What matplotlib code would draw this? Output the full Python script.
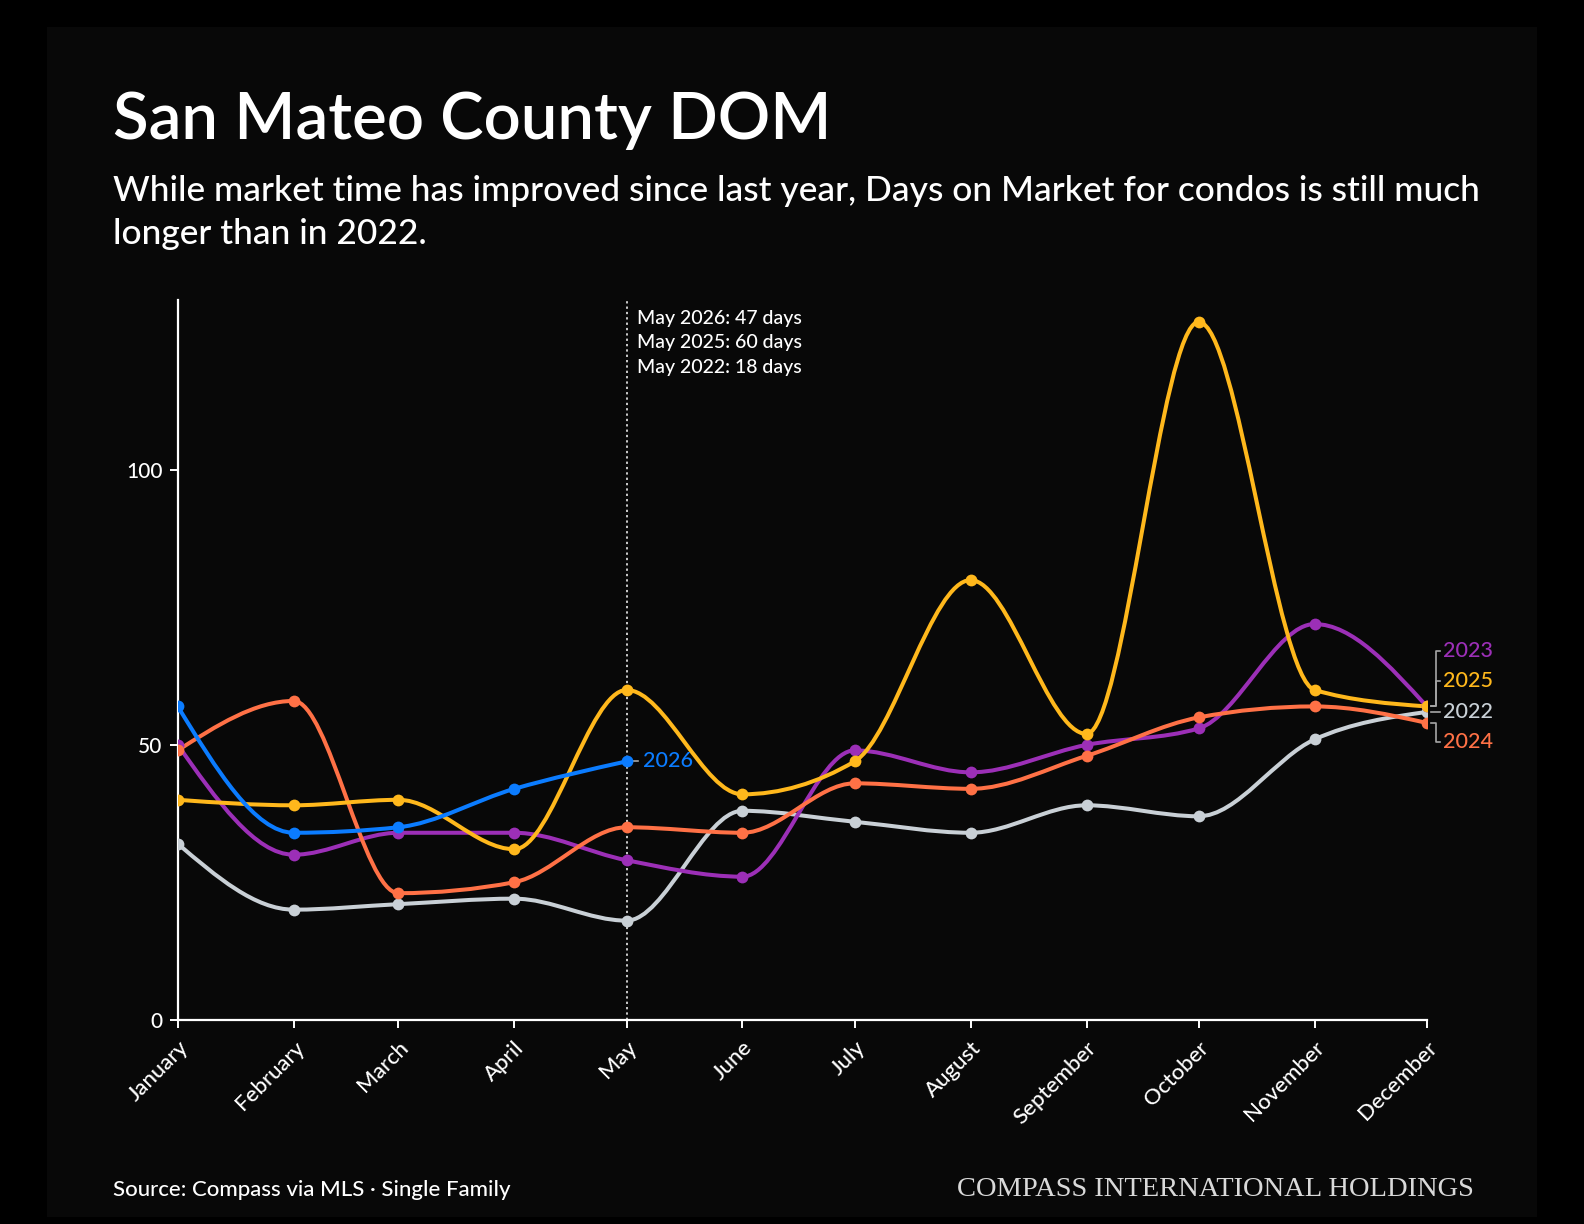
import matplotlib

matplotlib.use("Agg")
import matplotlib.dates as mdates
import matplotlib.pyplot as plt
import numpy as np
import pandas as pd
from matplotlib.patches import PathPatch, Rectangle
from matplotlib.path import Path
from matplotlib.transforms import offset_copy

MONTHS = [
    "January", "February", "March", "April", "May", "June",
    "July", "August", "September", "October", "November", "December",
]
DOM_2022 = [32, 20, 21, 22, 18, 38, 36, 34, 39, 37, 51, 56]
DOM_2023 = [50, 30, 34, 34, 29, 26, 49, 45, 50, 53, 72, 57]
DOM_2024 = [49, 58, 23, 25, 35, 34, 43, 42, 48, 55, 57, 54]
DOM_2025 = [40, 39, 40, 31, 60, 41, 47, 80, 52, 127, 60, 57]
DOM_2026 = [57, 34, 35, 42, 47]

SERIES = {
    "2022": (DOM_2022, "#c9d0d6"),
    "2023": (DOM_2023, "#9c2fb7"),
    "2024": (DOM_2024, "#ff7146"),
    "2025": (DOM_2025, "#ffb81c"),
    "2026": (DOM_2026, "#0b7cff"),
}
Y_TICKS = [0, 50, 100]
Y_MAX = 131
HOVER_MONTH = 4  # May
HOVER_YEARS = ["2026", "2025", "2022"]

TITLE = "San Mateo County DOM"
SUBTITLE = [
    "While market time has improved since last year, Days on Market for condos is still much",
    "longer than in 2022.",
]
SOURCE = "Source: Compass via MLS \u00b7 Single Family"
BRAND = "COMPASS INTERNATIONAL HOLDINGS"

FONT = "Lato"
BG = "#080808"


def monotone_path(x, y):
    # same tangents as d3.curveMonotoneX, emitted as cubic beziers
    x = np.asarray(x, dtype=float)
    y = np.asarray(y, dtype=float)
    h = np.diff(x)
    s = np.diff(y) / h
    sign = lambda v: -1.0 if v < 0 else 1.0
    t = np.zeros(len(x))
    for i in range(1, len(x) - 1):
        p = (s[i - 1] * h[i] + s[i] * h[i - 1]) / (h[i - 1] + h[i])
        t[i] = (sign(s[i - 1]) + sign(s[i])) * min(abs(s[i - 1]), abs(s[i]), 0.5 * abs(p))
    t[0] = (3 * s[0] - t[1]) / 2
    t[-1] = (3 * s[-1] - t[-2]) / 2

    verts = [(x[0], y[0])]
    codes = [Path.MOVETO]
    for i in range(len(x) - 1):
        dx = h[i] / 3
        verts += [
            (x[i] + dx, y[i] + dx * t[i]),
            (x[i + 1] - dx, y[i + 1] - dx * t[i + 1]),
            (x[i + 1], y[i + 1]),
        ]
        codes += [Path.CURVE4] * 3
    return Path(verts, codes)


dates = pd.date_range("2022-01-01", periods=12, freq="MS")
xnum = mdates.date2num(dates.to_pydatetime())

fig = plt.figure(figsize=(15.84, 12.24), dpi=100, facecolor="black")
fig.add_artist(
    Rectangle((47 / 1584, 1 - 1217 / 1224), 1490 / 1584, 1190 / 1224,
              transform=fig.transFigure, facecolor=BG, edgecolor="none", zorder=-10)
)

ax = fig.add_axes([177.8 / 1584, 1 - 1019.5 / 1224, 1249 / 1584, 719.5 / 1224])
ax.set_facecolor(BG)
ax.set_xlim(xnum[0], xnum[-1])
ax.set_ylim(0, Y_MAX)

for side in ("top", "right"):
    ax.spines[side].set_visible(False)
for side in ("left", "bottom"):
    ax.spines[side].set_color("white")
    ax.spines[side].set_linewidth(1.6)

ax.set_yticks(Y_TICKS)
ax.set_yticklabels([str(v) for v in Y_TICKS], fontsize=15, family=FONT,
                   fontweight="medium", color="white")
ax.set_xticks(xnum)
ax.set_xticklabels(MONTHS, fontsize=16, family=FONT, fontweight="medium", color="white",
                   rotation=45, ha="right", va="top", rotation_mode="anchor")
ax.tick_params(axis="both", colors="white", length=6, width=1.4, pad=5)
ax.tick_params(axis="x", pad=7)

# hover line at May
ax.axvline(xnum[HOVER_MONTH], color="white", lw=1.1, ls=(0, (1.5, 2)), zorder=2)

for year, (vals, color) in SERIES.items():
    xs = xnum[: len(vals)]
    ax.add_patch(PathPatch(monotone_path(xs, vals), facecolor="none",
                           edgecolor=color, lw=2.9, capstyle="round", zorder=3))
    ax.plot(xs, vals, "o", color=color, markersize=8.5, markeredgewidth=0, zorder=4)

fig.canvas.draw()
to_disp = ax.transData.transform
to_data = ax.transData.inverted().transform


def connector(points_px, color):
    pts = to_data(np.asarray(points_px, dtype=float))
    ax.plot(pts[:, 0], pts[:, 1], color=color, lw=1.2, zorder=2, clip_on=False)


# end labels on the right, stacked to avoid overlap
full_years = [k for k, (v, _) in SERIES.items() if len(v) == len(MONTHS)]
order = sorted(full_years, key=lambda k: -SERIES[k][0][-1])
gap = 5.55
anchor_idx = len(order) // 2
anchor_val = SERIES[order[anchor_idx]][0][-1]
for rank, year in enumerate(order):
    vals, color = SERIES[year]
    label_y = anchor_val + gap * (anchor_idx - rank)
    px, py = to_disp((xnum[-1], vals[-1]))
    _, ly = to_disp((xnum[-1], label_y))
    connector([(px + 4, py), (px + 9, py), (px + 9, ly), (px + 13, ly)], "#a6a6a6")
    ax.text(xnum[-1], label_y, year, color=color, fontsize=15.5, family=FONT,
            fontweight="medium", va="center", ha="left", clip_on=False,
            transform=offset_copy(ax.transData, fig=fig, x=16, y=0, units="dots"))

# 2026 label where the series stops
vals, color = SERIES["2026"]
px, py = to_disp((xnum[len(vals) - 1], vals[-1]))
connector([(px + 5, py), (px + 11, py)], "#a6a6a6")
ax.text(xnum[len(vals) - 1], vals[-1], "2026", color=color, fontsize=15.5, family=FONT,
        fontweight="medium", va="center", ha="left",
        transform=offset_copy(ax.transData, fig=fig, x=16, y=0, units="dots"))

# hover tooltip text
hover_lines = [
    f"{MONTHS[HOVER_MONTH][:3]} {y}: {SERIES[y][0][HOVER_MONTH]} days" for y in HOVER_YEARS
]
ax.text(xnum[HOVER_MONTH], Y_MAX, "\n".join(hover_lines), color="white",
        fontsize=14, family=FONT, fontweight="medium", va="top", ha="left",
        linespacing=1.52,
        transform=offset_copy(ax.transData, fig=fig, x=10, y=-10, units="dots"))

fig.text(113 / 1584, 1 - 139 / 1224, TITLE, color="white", fontsize=47,
         family=FONT, fontweight="semibold", va="baseline", ha="left")
fig.text(113 / 1584, 1 - 201 / 1224, SUBTITLE[0], color="white", fontsize=25.5,
         family=FONT, fontweight="medium", va="baseline", ha="left")
fig.text(113 / 1584, 1 - 244 / 1224, SUBTITLE[1], color="white", fontsize=25.5,
         family=FONT, fontweight="medium", va="baseline", ha="left")
fig.text(113 / 1584, 1 - 1196 / 1224, SOURCE, color="white", fontsize=16,
         family=FONT, fontweight="medium", va="baseline", ha="left")
fig.text(1474 / 1584, 1 - 1196 / 1224, BRAND, color="#d9d9d9", fontsize=20.5,
         family="Liberation Serif", va="baseline", ha="right")

fig.savefig("out.png", dpi=100, facecolor="black")
